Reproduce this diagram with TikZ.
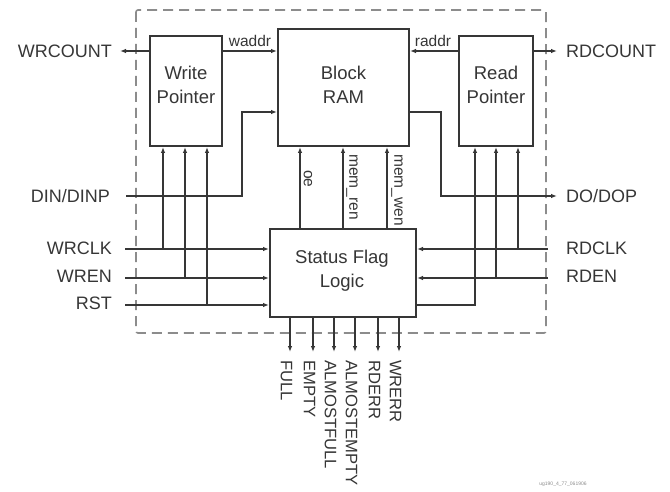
\documentclass[tikz,border=0pt]{standalone}
\usepackage{fontspec}
\setmainfont{Liberation Sans}
\usetikzlibrary{arrows.meta,calc}
\definecolor{ink}{HTML}{363636}
\definecolor{framegray}{HTML}{8C8C8C}
\begin{document}
\begin{tikzpicture}[x=1pt,y=-1pt,
  blk/.style={draw=ink,line width=2pt,fill=white,inner sep=0pt},
  wire/.style={draw=ink,line width=1.1pt},
  arr/.style={wire,-{Latex[length=6pt,width=4.5pt]}},
  lab/.style={text=ink,font=\fontsize{18}{22}\selectfont,inner sep=0pt},
  boxt/.style={text=ink,font=\fontsize{18.5}{24}\selectfont,align=center,inner sep=0pt},
  sml/.style={text=ink,font=\fontsize{15.5}{18}\selectfont,inner sep=0pt},
  outl/.style={text=ink,font=\fontsize{16.6}{20}\selectfont,inner sep=0pt,rotate=-90,anchor=west}]
\useasboundingbox (0,0) rectangle (670,492);
% frame
\draw[draw=framegray,line width=1.6pt,dash pattern=on 10pt off 6pt,rounded corners=2pt] (136,10) rectangle (546,333);
% blocks
\node[blk,minimum width=72pt,minimum height=110pt] (wp) at (186,91) {};
\node[blk,minimum width=131pt,minimum height=117pt] (ram) at (343.5,87.5) {};
\node[blk,minimum width=74pt,minimum height=110pt] (rp) at (496,91) {};
\node[blk,minimum width=146pt,minimum height=88pt] (sfl) at (343,273) {};
\node[boxt] (wpt) at (186,85) {Write\\Pointer};
\node[boxt] (ramt) at (343.5,85) {Block\\RAM};
\node[boxt] (rpt) at (496,85) {Read\\Pointer};
\node[boxt] (sflt) at (342,271) {Status Flag\\Logic};
% left labels
\node[lab,anchor=east] (lwrcount) at (112,51) {WRCOUNT};
\node[lab,anchor=east] (ldin) at (110,196) {DIN/DINP};
\node[lab,anchor=east] (lwrclk) at (112,248) {WRCLK};
\node[lab,anchor=east] (lwren) at (112,276) {WREN};
\node[lab,anchor=east] (lrst) at (112,303) {RST};
% right labels
\node[lab,anchor=west] (lrdcount) at (566,51) {RDCOUNT};
\node[lab,anchor=west] (ldo) at (566,196) {DO/DOP};
\node[lab,anchor=west] (lrdclk) at (566,248) {RDCLK};
\node[lab,anchor=west] (lrden) at (566,276) {RDEN};
% top connectors
\coordinate (ya) at (0,51);
\draw[arr] (wp.west |- ya) -- (120,51) coordinate (wrcend);
\draw[arr] (wp.east |- ya) -- (ram.west |- ya);
\draw[arr] (rp.west |- ya) -- (ram.east |- ya);
\draw[arr] (rp.east |- ya) -- (557,51) coordinate (rdcend);
\node[sml,anchor=south] (lwaddr) at (250,47) {waddr};
\node[sml,anchor=south] (lraddr) at (433,47) {raddr};
% data in / out
\coordinate (dinx) at (242,112);
\coordinate (dinst) at (126,196);
\draw[arr] (dinst) -| (dinx) -- (ram.west |- dinx);
\coordinate (dox) at (441,112);
\coordinate (doend) at (557,196);
\draw[arr] (ram.east |- dox) -- (dox) |- (doend);
% write side inputs
\coordinate (wclk) at (125,249);
\coordinate (wen) at (125,278);
\coordinate (wrst) at (125,305);
\draw[arr] (wclk) -- (sfl.west |- wclk);
\draw[arr] (wen) -- (sfl.west |- wen);
\draw[arr] (wrst) -- (sfl.west |- wrst);
\coordinate (w1) at (163,249);
\coordinate (w2) at (185,278);
\coordinate (w3) at (207,305);
\draw[arr] (w1) -- (wp.south -| w1);
\draw[arr] (w2) -- (wp.south -| w2);
\draw[arr] (w3) -- (wp.south -| w3);
% read side inputs
\coordinate (rclk) at (548,249);
\coordinate (ren) at (548,278);
\draw[arr] (rclk) -- (sfl.east |- rclk);
\draw[arr] (ren) -- (sfl.east |- ren);
\coordinate (r1) at (475,305);
\coordinate (r2) at (496,278);
\coordinate (r3) at (518,249);
\draw[arr] (sfl.east |- r1) -- (r1) -- (rp.south -| r1);
\draw[arr] (r2) -- (rp.south -| r2);
\draw[arr] (r3) -- (rp.south -| r3);
% status to RAM
\coordinate (c1) at (300,0);
\coordinate (c2) at (343,0);
\coordinate (c3) at (387,0);
\draw[arr] (sfl.north -| c1) -- (ram.south -| c1);
\draw[arr] (sfl.north -| c2) -- (ram.south -| c2);
\draw[arr] (sfl.north -| c3) -- (ram.south -| c3);
\node[sml,rotate=-90,anchor=west] (loe) at (308,170) {oe};
\node[sml,rotate=-90,anchor=west] (lmren) at (352,154) {mem\_ren};
\node[sml,rotate=-90,anchor=west] (lmwen) at (397,154) {mem\_wen};
% status outputs
\foreach \x/\n/\t in {290/o1/FULL,313/o2/EMPTY,334/o3/ALMOSTFULL,355/o4/ALMOSTEMPTY,378/o5/RDERR,399/o6/WRERR}{
  \coordinate (\n) at (\x,352);
  \draw[arr] (sfl.south -| \n) -- (\n);
  \node[outl] (l\n) at (\x-3.5,360) {\t};
}
\node[text=framegray,font=\fontsize{5}{6}\selectfont,inner sep=0pt] (code) at (563,484) {ug190\_4\_77\_061906};
\end{tikzpicture}
\end{document}
